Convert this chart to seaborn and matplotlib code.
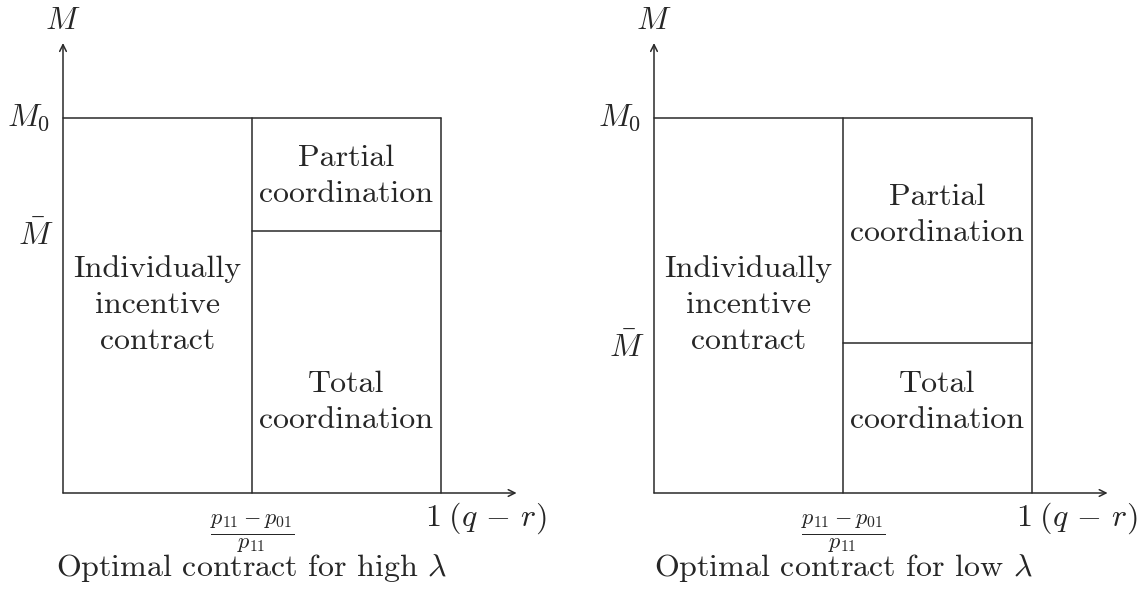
import matplotlib
matplotlib.use("Agg")
import matplotlib.pyplot as plt
import seaborn as sns
import pandas as pd

# ---- data ----
panel_names = ["high", "low"]
titles = [r"Optimal contract for high $\lambda$", r"Optimal contract for low $\lambda$"]
x_split = 0.5          # (p11 - p01)/p11
x_max = 1.0            # 1 (q - r)
M0 = 1.0
Mbar = [0.7, 0.4]
region_labels = ["Individually\nincentive\ncontract", "Partial\ncoordination", "Total\ncoordination"]
partial_y = [0.845, 0.74]
total_y = [0.243, 0.243]
indiv_y = [0.5, 0.5]
axis_extent = 1.2

sns.set_theme(style="white")
plt.rcParams["font.family"] = ["cmr10", "DejaVu Serif"]
plt.rcParams["mathtext.fontset"] = "cm"
plt.rcParams["axes.formatter.use_mathtext"] = True

W, H = 1146, 590
fig = plt.figure(figsize=(W / 100, H / 100), dpi=100)

pxu_x = 378.0
pxu_y = 375.0
origins = [63, 654]
origin_y = 493
halves = [(0, 573), (573, 1146)]

FS = 23
lc = "#2a2a2a"
LS = 1.4

for i, name in enumerate(panel_names):
    x0p, x1p = halves[i]
    ax = fig.add_axes([x0p / W, 0, (x1p - x0p) / W, 1])
    ox = origins[i]
    ax.set_xlim(-(ox - x0p) / pxu_x, (x1p - ox) / pxu_x)
    ax.set_ylim(-(H - origin_y) / pxu_y, origin_y / pxu_y)
    ax.set_axis_off()

    segs = pd.DataFrame({
        "seg": [0, 0, 1, 1, 2, 2, 3, 3],
        "x": [0, x_max, x_split, x_split, x_max, x_max, x_split, x_max],
        "y": [M0, M0, 0, M0, 0, M0, Mbar[i], Mbar[i]],
    })
    for s, g in segs.groupby("seg"):
        sns.lineplot(data=g, x="x", y="y", ax=ax, color=lc, lw=1.1,
                     sort=False, estimator=None, legend=False)

    # axes arrows
    ax.annotate("", xy=(axis_extent, 0), xytext=(0, 0),
                arrowprops=dict(arrowstyle="->", color=lc, lw=1.1, shrinkA=0, shrinkB=0))
    ax.annotate("", xy=(0, axis_extent), xytext=(0, 0),
                arrowprops=dict(arrowstyle="->", color=lc, lw=1.1, shrinkA=0, shrinkB=0))

    # axis labels
    ax.text(0, (origin_y - 21) / pxu_y, r"$M$", ha="center", va="center", fontsize=FS)
    ax.text(-0.035, M0, r"$M_0$", ha="right", va="center", fontsize=FS)
    ax.text(-0.025, Mbar[i] - 0.012, r"$\bar{M}$", ha="right", va="center", fontsize=FS)
    ax.text(x_split, -0.108, r"$\frac{p_{11}-p_{01}}{p_{11}}$", ha="center", va="center", fontsize=FS)
    ax.text(x_max + 0.118, -0.068, r"$1\;(q\,-\,r)$", ha="center", va="center", fontsize=FS)
    ax.text(x_split, -0.2, titles[i], ha="center", va="center", fontsize=FS)

    # region labels
    ax.text(x_split / 2, indiv_y[i], region_labels[0], ha="center", va="center",
            fontsize=FS, multialignment="center", linespacing=LS)
    ax.text((x_split + x_max) / 2, partial_y[i], region_labels[1], ha="center", va="center",
            fontsize=FS, multialignment="center", linespacing=LS)
    ax.text((x_split + x_max) / 2, total_y[i], region_labels[2], ha="center", va="center",
            fontsize=FS, multialignment="center", linespacing=LS)

fig.savefig("out.png", dpi=100)
